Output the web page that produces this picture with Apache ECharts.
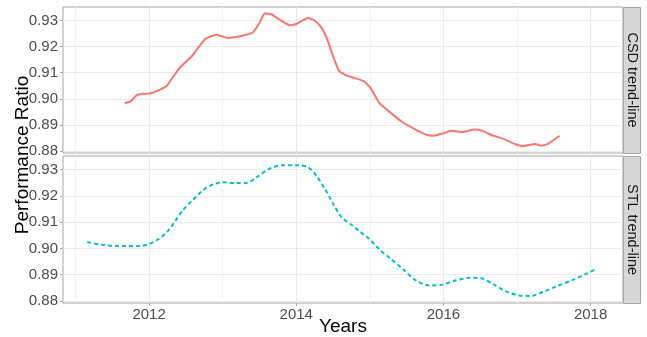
<!DOCTYPE html>
<html><head><meta charset="utf-8">
<script src="https://cdn.jsdelivr.net/npm/echarts@6/dist/echarts.min.js"></script>
<style>html,body{margin:0;padding:0;background:#fff}#c{width:647px;height:337px}</style>
</head><body><div id="c"></div>
<script>
// ---- data ----
const facetNames = ['CSD trend-line', 'STL trend-line'];
const csdYears = [2011.67, 2011.75, 2011.83, 2011.92, 2012.01, 2012.12, 2012.24, 2012.33, 2012.42, 2012.58,
  2012.68, 2012.77, 2012.92, 2013.07, 2013.16, 2013.28, 2013.41, 2013.50, 2013.57, 2013.66,
  2013.77, 2013.91, 2014.00, 2014.16, 2014.25, 2014.34, 2014.41, 2014.50, 2014.58, 2014.68,
  2014.79, 2014.92, 2015.01, 2015.13, 2015.25, 2015.43, 2015.63, 2015.77, 2015.86, 2015.99,
  2016.11, 2016.26, 2016.42, 2016.53, 2016.67, 2016.81, 2016.94, 2017.08, 2017.24, 2017.33,
  2017.42, 2017.58];
const csdValues = [0.8983, 0.8990, 0.9013, 0.9019, 0.9020, 0.9031, 0.9050, 0.9086, 0.9120, 0.9163,
  0.9201, 0.9231, 0.9246, 0.9233, 0.9236, 0.9243, 0.9254, 0.9291, 0.9327, 0.9324,
  0.9304, 0.9282, 0.9287, 0.9310, 0.9300, 0.9274, 0.9236, 0.9163, 0.9108, 0.9090,
  0.9080, 0.9067, 0.9041, 0.8983, 0.8954, 0.8913, 0.8881, 0.8862, 0.8858, 0.8867,
  0.8877, 0.8872, 0.8882, 0.8877, 0.8859, 0.8847, 0.8830, 0.8818, 0.8827, 0.8820,
  0.8827, 0.8858];
const stlYears = [2011.16, 2011.33, 2011.51, 2011.69, 2011.87, 2011.99, 2012.12, 2012.24, 2012.35, 2012.46,
  2012.60, 2012.73, 2012.87, 2013.00, 2013.19, 2013.32, 2013.46, 2013.64, 2013.82, 2014.00,
  2014.16, 2014.27, 2014.39, 2014.50, 2014.61, 2014.75, 2014.86, 2015.00, 2015.13, 2015.29,
  2015.45, 2015.63, 2015.81, 2015.99, 2016.13, 2016.35, 2016.51, 2016.67, 2016.85, 2017.03,
  2017.19, 2017.35, 2017.53, 2017.76, 2017.94, 2018.07];
const stlValues = [0.9024, 0.9015, 0.9010, 0.9009, 0.9009, 0.9016, 0.9034, 0.9061, 0.9102, 0.9146,
  0.9186, 0.9221, 0.9244, 0.9252, 0.9249, 0.9249, 0.9271, 0.9304, 0.9317, 0.9317,
  0.9309, 0.9278, 0.9226, 0.9171, 0.9121, 0.9090, 0.9065, 0.9034, 0.8996, 0.8959,
  0.8921, 0.8877, 0.8859, 0.8862, 0.8875, 0.8888, 0.8886, 0.8865, 0.8836, 0.8821,
  0.8819, 0.8834, 0.8855, 0.8880, 0.8903, 0.8921];
const xTickLabels = [2012, 2014, 2016, 2018];
const xMinorBreaks = [2011, 2013, 2015, 2017];
const yTickLabels = [0.88, 0.89, 0.90, 0.91, 0.92, 0.93];
const yMinorBreaks = [0.885, 0.895, 0.905, 0.915, 0.925];

// ---- layout / style ----
const X_MIN = 2010.83, X_MAX = 2018.44, Y_MIN = 0.8792, Y_MAX = 0.9352;
const FONT = 'Liberation Sans, Arial, sans-serif';
const BORDER = '#a6a6a6', MAJOR = '#ebebeb', MINOR = '#f3f3f3';
const grids = [
  {left: 63, top: 7, width: 560, height: 146},
  {left: 63, top: 156, width: 560, height: 147}
];

function gridLines() {
  const d = [];
  yMinorBreaks.forEach(v => d.push({yAxis: v, lineStyle: {color: MINOR, width: 1, type: 'solid'}}));
  xMinorBreaks.forEach(v => d.push({xAxis: v, lineStyle: {color: MINOR, width: 1, type: 'solid'}}));
  yTickLabels.forEach(v => d.push({yAxis: v, lineStyle: {color: MAJOR, width: 1, type: 'solid'}}));
  xTickLabels.forEach(v => d.push({xAxis: v, lineStyle: {color: MAJOR, width: 1, type: 'solid'}}));
  return {silent: true, symbol: ['none', 'none'], label: {show: false}, z: 1, animation: false,
    emphasis: {disabled: true}, data: d};
}

function xAxis(gi, show) {
  return {type: 'value', gridIndex: gi, min: X_MIN, max: X_MAX,
    axisLine: {show: false}, splitLine: {show: false},
    axisTick: {show: show, customValues: xTickLabels, length: 3, lineStyle: {color: BORDER}},
    axisLabel: {show: show, customValues: xTickLabels, margin: 4, fontSize: 15, color: '#4d4d4d',
      fontFamily: FONT, formatter: v => String(Math.round(v))}};
}
function yAxis(gi) {
  return {type: 'value', gridIndex: gi, min: Y_MIN, max: Y_MAX,
    axisLine: {show: false}, splitLine: {show: false},
    axisTick: {show: true, customValues: yTickLabels, length: 3, lineStyle: {color: BORDER}},
    axisLabel: {show: true, customValues: yTickLabels, margin: 5, fontSize: 15, color: '#4d4d4d',
      fontFamily: FONT, formatter: v => v.toFixed(2)}};
}

const chart = echarts.init(document.getElementById('c'), null, {renderer: 'canvas'});
const graphics = [];
grids.forEach((g, i) => {
  graphics.push({type: 'rect', shape: {x: g.left + g.width + 0.5, y: g.top + 0.5, width: 17, height: g.height},
    style: {fill: '#d6d6d6', stroke: BORDER, lineWidth: 1}, z: 10});
  graphics.push({type: 'text', x: g.left + g.width + 9, y: g.top + g.height / 2, rotation: -Math.PI / 2,
    style: {text: facetNames[i], font: '14.5px ' + FONT, fill: '#1a1a1a', align: 'center', verticalAlign: 'middle'}, z: 11});
});
graphics.push({type: 'text', x: 23, y: 155, rotation: Math.PI / 2,
  style: {text: 'Performance Ratio', font: '19px ' + FONT, fill: '#000', align: 'center', verticalAlign: 'middle'}});
graphics.push({type: 'text', x: 343, y: 327,
  style: {text: 'Years', font: '19px ' + FONT, fill: '#000', align: 'center', verticalAlign: 'middle'}});

chart.setOption({
  animation: false,
  backgroundColor: '#fff',
  grid: grids.map(g => Object.assign({show: true, backgroundColor: '#fff', borderColor: BORDER, borderWidth: 1,
    containLabel: false}, g)),
  xAxis: [xAxis(0, false), xAxis(1, true)],
  yAxis: [yAxis(0), yAxis(1)],
  series: [
    {type: 'line', xAxisIndex: 0, yAxisIndex: 0, showSymbol: false, smooth: 0.15, z: 3,
      data: csdYears.map((y, i) => [y, csdValues[i]]),
      lineStyle: {color: '#F8766D', width: 2}, markLine: gridLines()},
    {type: 'line', xAxisIndex: 1, yAxisIndex: 1, showSymbol: false, smooth: 0.3, z: 3,
      data: stlYears.map((y, i) => [y, stlValues[i]]),
      lineStyle: {color: '#00BFC4', width: 2, type: [4, 3]}, markLine: gridLines()}
  ],
  graphic: graphics
});
</script></body></html>
